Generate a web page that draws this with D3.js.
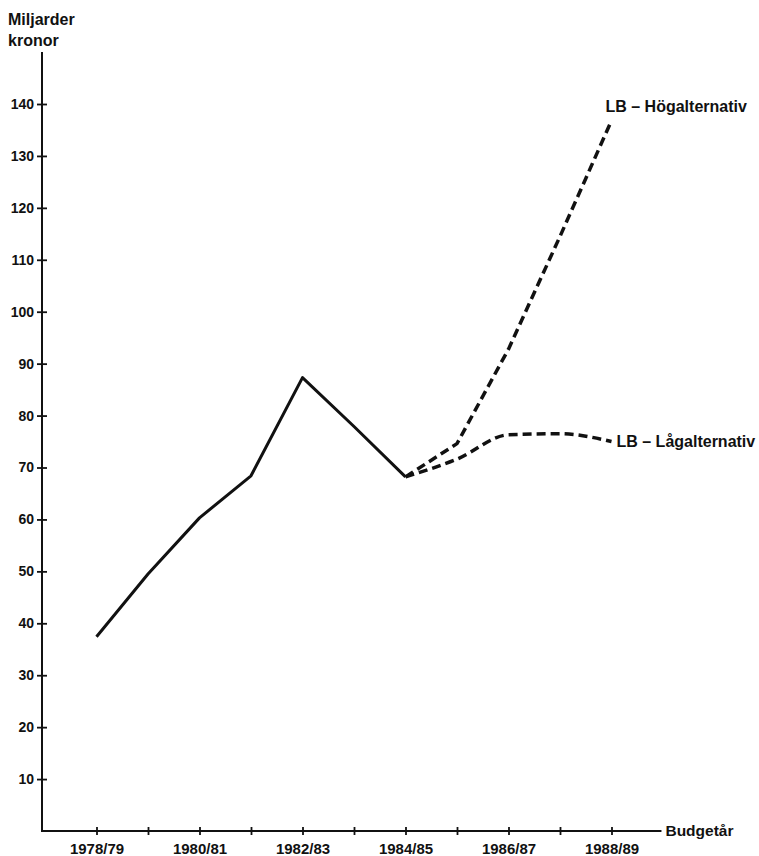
<!DOCTYPE html>
<html>
<head>
<meta charset="utf-8">
<script src="https://cdn.jsdelivr.net/npm/d3@7"></script>
<style>
  body { margin: 0; background: #fff; }
  svg text { font-family: "Liberation Sans", Arial, Helvetica, sans-serif; font-weight: bold; fill: #111; }
</style>
</head>
<body>
<div id="chart"></div>
<script>
// budgetår 1978/79 .. 1988/89
var years = ['1978/79','1979/80','1980/81','1981/82','1982/83','1983/84',
             '1984/85','1985/86','1986/87','1987/88','1988/89'];
// utfall (heldragen linje), 1978/79 - 1984/85
var actual = [37.4, 49.5, 60.3, 68.4, 87.3, 77.9, 68.2];
// prognoser från 1984/85
var hogAlt = [68.2, 74.6, 92.8, 114.5, 136.8];
var lagAlt = [68.2, 71.6, 76.3, 76.5, 75.0];
var yTicks = [10,20,30,40,50,60,70,80,90,100,110,120,130,140];

var W = 759, H = 856;
var svg = d3.select('#chart').append('svg')
    .attr('width', W)
    .attr('height', H);

var xScale = d3.scaleLinear()
    .domain([0, 10])
    .range([96.5, 611.5]);

var yScale = d3.scaleLinear()
    .domain([0, 140])
    .range([831, 104]);

var axisX0 = 42;

// axellinjer
svg.append('line')
    .attr('x1', axisX0).attr('x2', axisX0)
    .attr('y1', yScale(0)).attr('y2', yScale(150))
    .attr('stroke', '#111').attr('stroke-width', 2);
svg.append('line')
    .attr('x1', axisX0 - 1).attr('x2', xScale(10.97))
    .attr('y1', yScale(0)).attr('y2', yScale(0))
    .attr('stroke', '#111').attr('stroke-width', 2);

var yAxis = d3.axisLeft(yScale)
    .tickValues(yTicks)
    .tickSize(5)
    .tickPadding(3)
    .tickFormat(d3.format('d'));

var gy = svg.append('g')
    .attr('transform', 'translate(' + axisX0 + ',0)')
    .call(yAxis);
gy.select('.domain').remove();
gy.selectAll('.tick line').attr('x1', 5).attr('stroke', '#111').attr('stroke-width', 1.8);
gy.selectAll('.tick text').style('font-size', '14px');

var xAxis = d3.axisBottom(xScale)
    .tickValues(d3.range(years.length))
    .tickSize(4)
    .tickPadding(8)
    .tickFormat(function(d, i){ return i % 2 ? '' : years[i]; });

var gx = svg.append('g')
    .attr('transform', 'translate(0,' + yScale(0) + ')')
    .call(xAxis);
gx.select('.domain').remove();
gx.selectAll('.tick line').attr('y1', -4).attr('stroke', '#111').attr('stroke-width', 1.8);
gx.selectAll('.tick text').style('font-size', '15px');

// axeltitlar
svg.append('text').attr('x', 8).attr('y', 25).style('font-size', '16px').text('Miljarder');
svg.append('text').attr('x', 8).attr('y', 46).style('font-size', '16px').text('kronor');
svg.append('text').attr('x', xScale(10.97) + 4).attr('y', yScale(0) + 5)
    .style('font-size', '15.5px').text('Budgetår');

var line = d3.line()
    .x(function(d){ return xScale(d[0]); })
    .y(function(d){ return yScale(d[1]); });

var curved = d3.line()
    .curve(d3.curveMonotoneX)
    .x(function(d){ return xScale(d[0]); })
    .y(function(d){ return yScale(d[1]); });

svg.append('path')
    .datum(actual.map(function(v, i){ return [i, v]; }))
    .attr('d', line)
    .attr('fill', 'none')
    .attr('stroke', '#111')
    .attr('stroke-width', 3)
    .attr('stroke-linejoin', 'round');

svg.append('path')
    .datum(hogAlt.map(function(v, i){ return [i + 6, v]; }))
    .attr('d', line)
    .attr('fill', 'none')
    .attr('stroke', '#111')
    .attr('stroke-width', 3.5)
    .attr('stroke-dasharray', '9,5');

svg.append('path')
    .datum(lagAlt.map(function(v, i){ return [i + 6, v]; }))
    .attr('d', curved)
    .attr('fill', 'none')
    .attr('stroke', '#111')
    .attr('stroke-width', 3.5)
    .attr('stroke-dasharray', '9,5');

svg.append('text')
    .attr('x', xScale(10) - 6).attr('y', yScale(hogAlt[4]) - 9)
    .style('font-size', '16px')
    .text('LB – Högalternativ');
svg.append('text')
    .attr('x', xScale(10) + 5).attr('y', yScale(lagAlt[4]) + 5)
    .style('font-size', '16px')
    .text('LB – Lågalternativ');
</script>
</body>
</html>
